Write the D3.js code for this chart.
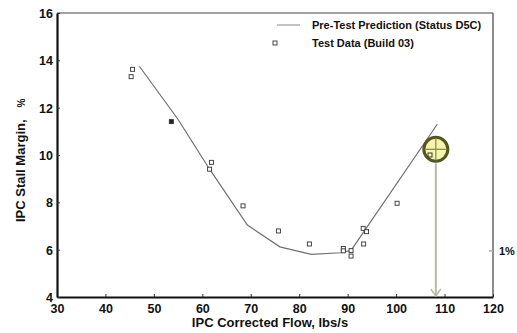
<!DOCTYPE html>
<html>
<head>
<meta charset="utf-8">
<script src="https://cdn.jsdelivr.net/npm/d3@7"></script>
<style>
  body { margin: 0; background: #fff; }
  svg text { font-family: "Liberation Sans", Arial, sans-serif; font-weight: bold; fill: #111; }
</style>
</head>
<body>
<div class="chart"></div>
<script>
// pre-test prediction curve
const predFlow   = [47, 55, 61.5, 69.3, 76, 82.5, 88.5, 90.7, 108.5];
const predMargin = [13.75, 11.5, 9.4, 7.04, 6.12, 5.8, 5.87, 5.97, 11.3];

// test data (build 03)
const testFlow   = [45.6, 45.3, 53.6, 61.9, 61.5, 68.4, 75.7, 82.1, 89.1, 89.1, 90.7, 90.7, 93.2, 93.9, 93.3, 100.2, 107];
const testMargin = [13.62, 13.31, 11.41, 9.69, 9.4, 7.85, 6.79, 6.24, 6.05, 5.95, 5.96, 5.73, 6.9, 6.76, 6.24, 7.96, 10.0];
const testFilled = [false, false, true, false, false, false, false, false, false, false, false, false, false, false, false, false, false];

// highlighted point
const markFlow = 108.2;
const markMargin = 10.24;

const xTicks = [30, 40, 50, 60, 70, 80, 90, 100, 110, 120];
const yTicks = [4, 6, 8, 10, 12, 14, 16];
const legendLabels = ["Pre-Test Prediction (Status D5C)", "Test Data (Build 03)"];

//Margin convention
const margin = {top: 13, left: 57, bottom: 36, right: 24};
const width = 517 - margin.left - margin.right;
const height = 333 - margin.top - margin.bottom;

const svg = d3.select('.chart').append('svg')
    .attr('width', width + margin.left + margin.right)
    .attr('height', height + margin.top + margin.bottom);

const g = svg.append('g')
    .attr('transform', `translate(${margin.left},${margin.top})`);

//Scales
const xScale = d3.scaleLinear().domain([30, 120]).range([0, width]);
const yScale = d3.scaleLinear().domain([4, 16]).range([height, 0]);

// frame: top and right
g.append('line')
    .attr('x1', 0).attr('x2', width).attr('y1', 0).attr('y2', 0)
    .attr('stroke', '#444').attr('stroke-width', 1);
g.append('line')
    .attr('x1', width).attr('x2', width).attr('y1', 0).attr('y2', height)
    .attr('stroke', '#666').attr('stroke-width', 1.5);

// axes
const xAxis = d3.axisBottom(xScale).tickValues(xTicks).tickSizeInner(-3).tickSizeOuter(0).tickPadding(7);
const yAxis = d3.axisLeft(yScale).tickValues(yTicks).tickSizeInner(-3).tickSizeOuter(0).tickPadding(4);

const gx = g.append('g')
    .attr('transform', `translate(0,${height})`)
    .call(xAxis);
const gy = g.append('g').call(yAxis);

[gx, gy].forEach(a => {
    a.select('.domain').attr('stroke', '#111').attr('stroke-width', 2.2);
    a.selectAll('.tick line').attr('stroke', '#333');
    a.selectAll('.tick text').attr('font-size', '12.5px').attr('fill', '#111');
});
gy.selectAll('.tick text').attr('dy', '0.36em');

// small mark on right axis + 1% label
g.append('line')
    .attr('x1', width - 4).attr('x2', width).attr('y1', yScale(5.95)).attr('y2', yScale(5.95))
    .attr('stroke', '#aaa').attr('stroke-width', 1.5);
g.append('text')
    .attr('x', width + 6).attr('y', yScale(5.95) + 4)
    .attr('font-size', '11px')
    .text('1%');

// axis labels
svg.append('text')
    .attr('x', 270).attr('y', 327)
    .attr('text-anchor', 'middle')
    .attr('font-size', '13px')
    .text('IPC Corrected Flow, lbs/s');

const yl = svg.append('text')
    .attr('transform', 'translate(25,222) rotate(-90)')
    .attr('font-size', '13px')
    .text('IPC Stall Margin,');
yl.append('tspan').attr('dx', 12).attr('font-size', '10px').text('%');

// prediction line
const predData = predFlow.map((x, i) => ({x: x, y: predMargin[i]}));
const line = d3.line().x(d => xScale(d.x)).y(d => yScale(d.y));
g.append('path')
    .datum(predData)
    .attr('d', line)
    .attr('fill', 'none')
    .attr('stroke', '#707070')
    .attr('stroke-width', 1.2);

// test data squares
const testData = testFlow.map((x, i) => ({x: x, y: testMargin[i], f: testFilled[i]}));
g.selectAll('.pt')
    .data(testData)
    .enter()
    .append('rect')
    .attr('class', 'pt')
    .attr('x', d => xScale(d.x) - 2)
    .attr('y', d => yScale(d.y) - 2)
    .attr('width', 4)
    .attr('height', 4)
    .attr('fill', d => d.f ? '#222' : '#fff')
    .attr('stroke', '#333')
    .attr('stroke-width', 0.9);

// highlight circle + arrow
const cx = xScale(markFlow), cy = yScale(markMargin), r = 12;
g.append('line')
    .attr('x1', cx).attr('x2', cx).attr('y1', cy + r + 2).attr('y2', height - 1)
    .attr('stroke', '#b8bba4').attr('stroke-width', 2);
g.append('path')
    .attr('d', `M${cx - 5},${height - 8}L${cx},${height - 1}L${cx + 5},${height - 8}`)
    .attr('fill', 'none').attr('stroke', '#b8bba4').attr('stroke-width', 1.5);

g.append('circle')
    .attr('cx', cx).attr('cy', cy).attr('r', r)
    .attr('fill', '#f4f4a6').attr('fill-opacity', 0.9)
    .attr('stroke', '#55551f').attr('stroke-width', 3);
g.append('line')
    .attr('x1', cx - r + 1).attr('x2', cx + r - 1).attr('y1', cy).attr('y2', cy)
    .attr('stroke', '#8e8e48').attr('stroke-width', 1.3);
g.append('line')
    .attr('x1', cx).attr('x2', cx).attr('y1', cy - r + 1).attr('y2', cy + r - 1)
    .attr('stroke', '#8e8e48').attr('stroke-width', 1.3);
g.append('rect')
    .attr('x', xScale(107) - 2).attr('y', yScale(10.0) - 2)
    .attr('width', 4).attr('height', 4)
    .attr('fill', 'none').attr('stroke', '#333').attr('stroke-width', 0.9);

// legend
const legend = svg.selectAll('.legend')
    .data(legendLabels)
    .enter()
    .append('g')
    .attr('class', 'legend')
    .attr('transform', (d, i) => `translate(0,${25 + i * 18})`);

legend.filter((d, i) => i === 0).append('line')
    .attr('x1', 277).attr('x2', 300).attr('y1', 0).attr('y2', 0)
    .attr('stroke', '#888').attr('stroke-width', 1);
legend.filter((d, i) => i === 1).append('rect')
    .attr('x', 273).attr('y', -2).attr('width', 4).attr('height', 4)
    .attr('fill', '#fff').attr('stroke', '#333').attr('stroke-width', 0.9);

legend.append('text')
    .attr('x', 312)
    .attr('y', 4)
    .attr('font-size', '11px')
    .text(d => d);
</script>
</body>
</html>
